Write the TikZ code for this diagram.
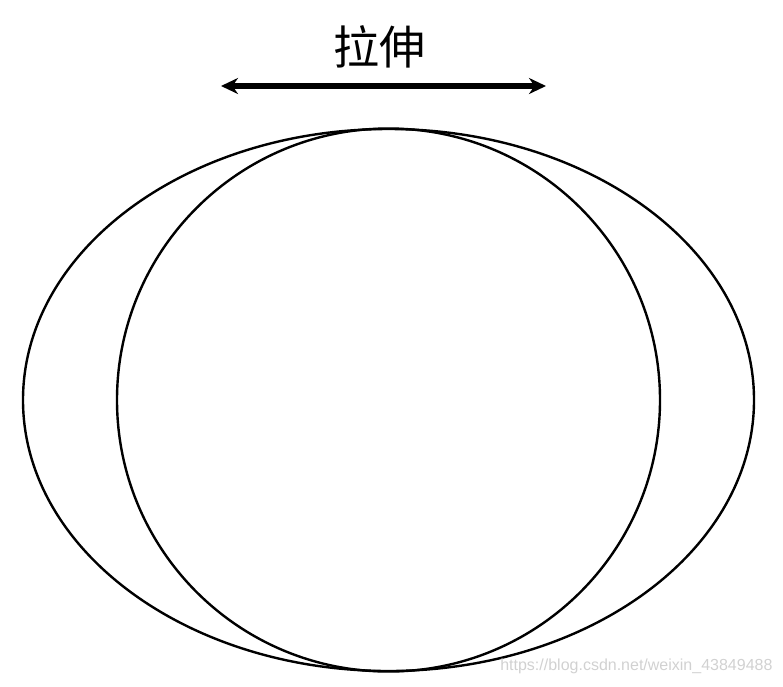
\documentclass[tikz,border=0pt]{standalone}
\usepackage{fontspec}
\newfontfamily\cjk{Noto Sans CJK SC}
\newfontfamily\wmfont{Liberation Sans}
\usetikzlibrary{arrows.meta,positioning}

\begin{document}
\begin{tikzpicture}[x=1pt,y=-1pt,line width=2.4pt]
  \tikzstyle{outline}=[draw=black]
  \tikzstyle{stretch}=[line width=6pt,{Stealth[length=17pt,width=16pt]}-{Stealth[length=17pt,width=16pt]}]

  \useasboundingbox (0,0) rectangle (783,686);

  \draw[outline] (388.5,400) ellipse [x radius=365.5,y radius=271];
  \draw[outline] (388.5,400) circle [radius=271.5];

  \coordinate (left end) at (221,86);
  \coordinate (right end) at (546,86);
  \draw[stretch] (left end) -- (right end);

  \node (label) at (379,47) {\cjk\fontsize{46}{48}\selectfont 拉伸};
  \node[text=black!18,anchor=east] (mark) at (777,666) {\wmfont\fontsize{16}{17}\selectfont https://blog.csdn.net/weixin\_43849488};
\end{tikzpicture}
\end{document}
